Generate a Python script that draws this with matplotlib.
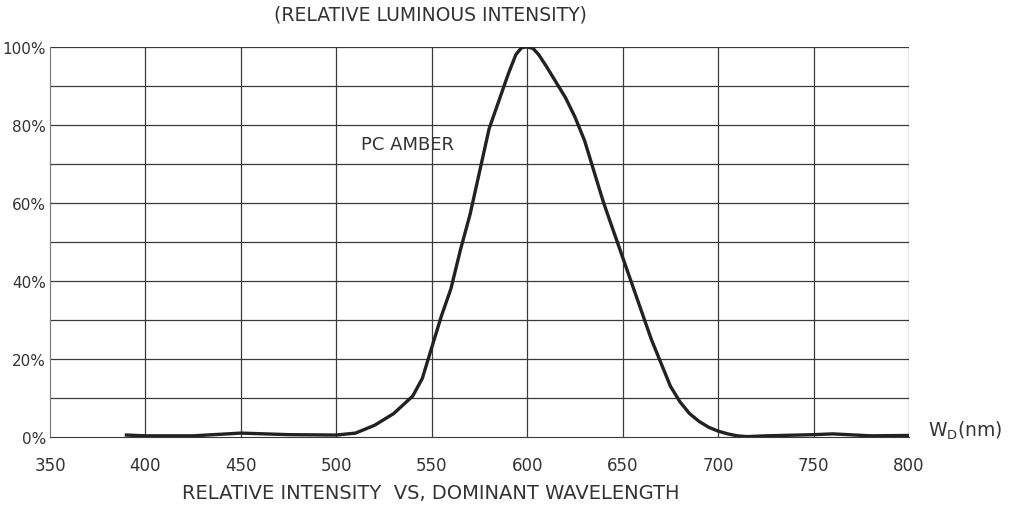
import matplotlib.pyplot as plt

# curve (wavelength nm, relative intensity %)
wavelength = [390, 400, 425, 450, 475, 500, 510, 520, 530, 540, 545, 550, 555, 560,
              565, 570, 575, 580, 585, 590, 594, 597, 600, 603, 606, 610, 615, 620,
              625, 630, 635, 640, 645, 650, 655, 660, 665, 670, 675, 680, 685, 690,
              695, 700, 705, 710, 715, 725, 750, 760, 780, 800]
intensity = [0.5, 0.3, 0.3, 1.0, 0.6, 0.5, 1.0, 3.0, 6.0, 10.5, 15, 23, 31, 38,
             48, 57, 68, 79, 86, 93, 98, 99.8, 100, 99.6, 98, 95, 91, 87,
             82, 76, 68, 60, 53, 46, 39, 32, 25, 19, 13, 9, 6, 4,
             2.5, 1.5, 0.8, 0.3, 0.1, 0.3, 0.6, 0.8, 0.3, 0.4]

x_ticks = [350, 400, 450, 500, 550, 600, 650, 700, 750, 800]
y_labels = [0, 20, 40, 60, 80, 100]

txt = '#333333'
fig = plt.figure(figsize=(10.13, 5.06), dpi=100)
ax = fig.add_axes([0.0494, 0.1344, 0.848, 0.771])

# grid every 50 nm / 10 %
for x in range(400, 801, 50):
    ax.axvline(x, color='#3a3a3a', lw=0.9, zorder=1)
for y in range(10, 101, 10):
    ax.axhline(y, color='#3a3a3a', lw=0.9, zorder=1)

ax.plot(wavelength, intensity, color='#222222', lw=2.4, zorder=3)

ax.set_xlim(350, 800)
ax.set_ylim(0, 100)
for s in ['top', 'right']:
    ax.spines[s].set_visible(False)
ax.spines['left'].set_color('#777777')
ax.spines['bottom'].set_color('#3a3a3a')
ax.tick_params(length=0, colors=txt)
ax.set_xticks(x_ticks)
ax.set_xticklabels([str(v) for v in x_ticks])
ax.tick_params(axis='x', pad=14, labelsize=12)
ax.set_yticks(y_labels)
ax.set_yticklabels([f'{v}%' for v in y_labels])
ax.tick_params(axis='y', pad=3, labelsize=11)

fig.text(0.425, 0.97, '(RELATIVE LUMINOUS INTENSITY)', ha='center', va='center',
         fontsize=13.5, color=txt)
fig.text(0.425, 0.025, 'RELATIVE INTENSITY  VS, DOMINANT WAVELENGTH', ha='center',
         va='center', fontsize=14, color=txt)
ax.text(537, 75, 'PC AMBER', ha='center', va='center', fontsize=13, color=txt)
fig.text(0.916, 0.148, r'W$_{\rm D}$(nm)', ha='left', va='center', fontsize=13.5, color=txt)

fig.savefig('out.png', dpi=100)
